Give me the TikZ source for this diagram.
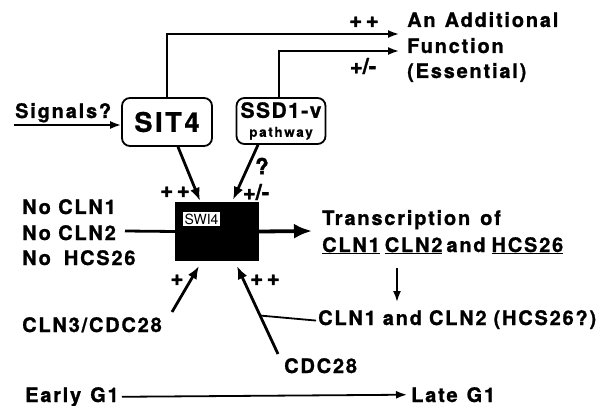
\documentclass[tikz,border=0pt]{standalone}
\usepackage{fontspec}
\setmainfont{TeX Gyre Heros}
\usetikzlibrary{arrows.meta,calc}
\newcommand{\gp}{\hspace{9pt}}
\tikzset{
  lbl/.style={font=\bfseries\fontsize{20}{22}\selectfont\addfontfeature{LetterSpace=9,FakeBold=1}, inner sep=0pt},
  sml/.style={font=\bfseries\fontsize{22}{22}\selectfont\addfontfeature{FakeBold=1.5}, inner sep=0pt},
  rbox/.style={draw, line width=1.8pt, rounded corners=8pt, inner sep=0pt},
  thin/.style={line width=1.8pt, -{Latex[length=11pt,width=8pt]}},
  thick/.style={line width=2.8pt, -{Latex[length=13pt,width=10pt]}},
  plain/.style={line width=1.8pt},
}
\begin{document}
\begin{tikzpicture}[x=1pt,y=-1pt]
\useasboundingbox (0,0) rectangle (602,406);
% boxes
\node[rbox, minimum width=90pt, minimum height=48pt, font=\bfseries\fontsize{27}{30}\selectfont\addfontfeature{LetterSpace=10,FakeBold=1}] (sit4) at (167,122) {SIT4};
\node[rbox, minimum width=89pt, minimum height=46pt, align=center, font=\fontsize{12}{19}\selectfont] (ssd) at (281,121)
  {{\bfseries\fontsize{21}{22}\selectfont\addfontfeature{LetterSpace=7,FakeBold=1}SSD1-v}\\{\bfseries\fontsize{13.5}{14}\selectfont\addfontfeature{LetterSpace=12,FakeBold=0.5}pathway}};
\node[fill=black, minimum width=84pt, minimum height=59pt, inner sep=0pt] (swi4) at (217,231.5) {};
\node[fill=white, inner sep=1.5pt, font=\fontsize{14}{15}\selectfont, anchor=north west] (swilbl) at (183,212) {SWI4};
% texts
\node[lbl, anchor=base west] (sig) at (15,118) {Signals?};
\node[lbl, anchor=base west] (add1) at (407,27) {An\gp Additional};
\node[lbl, anchor=base west] (add2) at (407,53) {Function};
\node[lbl, anchor=base west] (add3) at (407,78) {(Essential)};
\node[lbl, anchor=base west] (no1) at (22,214) {No CLN1};
\node[lbl, anchor=base west] (no2) at (22,240) {No CLN2};
\node[lbl, anchor=base west] (no3) at (22,265) {No\hspace{13pt}HCS26};
\node[lbl, anchor=base west] (tr1) at (322,225) {Transcription\hspace{10pt}of};
\node[lbl, anchor=base west] (tr2) at (322,252) {\underline{CLN1}\hspace{5pt}\underline{CLN2}\hspace{4pt}and\hspace{6pt}\underline{HCS26}};
\node[lbl, anchor=base west] (cln12) at (318,325) {CLN1\hspace{7pt}and\hspace{7pt}CLN2\hspace{7pt}(HCS26?)};
\node[lbl, anchor=base west] (cln3) at (22,332) {CLN3/CDC28};
\node[lbl, anchor=base west] (cdc28) at (284,373) {CDC28};
\node[lbl, anchor=base west] (early) at (25,402) {Early\gp G1};
\node[lbl, anchor=base west] (late) at (411,402) {Late\gp G1};
% signs
\node[sml] (pp1) at (364,22) {+\,+};
\node[sml] (pm1) at (363,66) {+/-};
\node[sml] (pp2) at (175,192) {+\,+};
\node[sml] (pm2) at (256,192) {+/-};
\node[sml] (q) at (262,166) {?};
\node[sml] (p3) at (177,280) {+};
\node[sml] (pp3) at (265,280) {+\,+};
% coordinates
\coordinate (addA) at (399,34);
\coordinate (addB) at (399,51);
\coordinate (sigS) at (14,125);
\coordinate (noS) at (125,231);
\coordinate (trT) at (312,231);
\coordinate (dnS) at (397,268);
\coordinate (dnT) at (397,302);
\coordinate (cdcS) at (278,354);
\coordinate (cdcT) at (237,266);
\coordinate (c3S) at (172,312);
\coordinate (c3T) at (199,266);
% connectors
\draw[thin] (sit4.north) -- (sit4.north |- addA) -- (addA);
\draw[thin] ([xshift=-2pt]ssd.north) -- ([xshift=-2pt]ssd.north |- addB) -- (addB);
\draw[thin] (sigS) -- (sigS -| sit4.west);
\draw[thick] ([xshift=11pt]sit4.south) -- ([xshift=-17pt,yshift=1pt]swi4.north);
\draw[thick] ([xshift=-23pt]ssd.south) -- ([xshift=16pt,yshift=2pt]swi4.north);
\draw[line width=2.8pt] (noS) -- (swi4.west);
\draw[line width=3.8pt, -{Latex[length=18pt,width=15pt]}] (swi4.east) -- (trT);
\draw[thin] (dnS) -- (dnT);
\draw[thick] (cdcS) -- (cdcT);
\draw[thick] (c3S) -- (c3T);
\draw[plain] ($(cdcS)!0.437!(cdcT)$) -- ([xshift=-2pt,yshift=-1pt]cln12.west);
\draw[thin] ([xshift=3pt]early.east) -- ([xshift=-4pt]late.west);
\end{tikzpicture}
\end{document}
